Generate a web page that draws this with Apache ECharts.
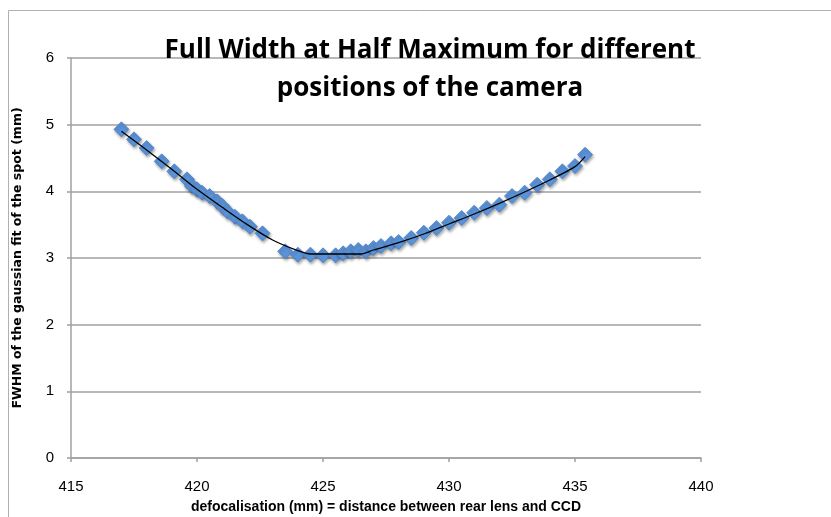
<!DOCTYPE html>
<html>
<head>
<meta charset="utf-8">
<script src="https://cdn.jsdelivr.net/npm/echarts@6/dist/echarts.min.js"></script>
<style>html,body{margin:0;padding:0;background:#fff;}#c{width:831px;height:517px;}</style>
</head>
<body>
<div id="c"></div>
<script>
var xValues = [417.0,417.5,418.0,418.6,419.1,419.6,419.8,420.0,420.2,420.5,420.8,421.0,421.2,421.5,421.8,422.1,422.6,423.5,424.0,424.5,425.0,425.5,425.8,426.1,426.4,426.7,427.0,427.3,427.7,428.0,428.5,429.0,429.5,430.0,430.5,431.0,431.5,432.0,432.5,433.0,433.5,434.0,434.5,435.0,435.4];
var yValues = [4.93,4.78,4.65,4.45,4.30,4.18,4.08,4.03,3.98,3.93,3.85,3.78,3.70,3.62,3.55,3.47,3.37,3.10,3.05,3.05,3.04,3.04,3.07,3.10,3.12,3.10,3.15,3.18,3.22,3.24,3.30,3.38,3.45,3.53,3.60,3.68,3.75,3.80,3.93,3.98,4.10,4.18,4.30,4.38,4.55];
var trendX = [417.0,418.0,419.0,420.0,421.0,422.0,423.0,424.0,424.5,426.5,427.0,428.0,429.0,430.0,431.0,432.0,433.0,434.0,435.0,435.4];
var trendY = [4.90,4.62,4.33,4.03,3.76,3.50,3.27,3.11,3.06,3.06,3.12,3.23,3.36,3.51,3.66,3.82,3.99,4.17,4.37,4.52];
var titleText = 'Full Width at Half Maximum for different\npositions of the camera';
var xName = 'defocalisation (mm) = distance between rear lens and CCD';
var yName = 'FWHM of the gaussian fit of the spot (mm)';

var pts = xValues.map(function(x,i){return [x,yValues[i]];});
var trend = trendX.map(function(x,i){return [x,trendY[i]];});

var chart = echarts.init(document.getElementById('c'), null, {renderer:'canvas'});
chart.setOption({
  animation:false,
  backgroundColor:'#fff',
  graphic:[{type:'polyline',z:100,shape:{points:[[8.5,517],[8.5,10.5],[831,10.5]]},style:{stroke:'#b0b0b0',lineWidth:1,fill:null}}],
  title:{text:titleText,left:425,top:27,textAlign:'center',
    textStyle:{fontFamily:'Open Sans, sans-serif',fontWeight:'bold',fontSize:26,lineHeight:38,color:'#000'}},
  grid:{left:71,right:130,top:58,bottom:59,containLabel:false,outerBoundsMode:'none'},
  xAxis:{type:'value',min:415,max:440,interval:5,
    name:xName,nameLocation:'middle',nameGap:42,
    nameTextStyle:{fontFamily:'Liberation Sans, sans-serif',fontWeight:'bold',fontSize:14,color:'#000'},
    axisLine:{lineStyle:{color:'#a0a0a0',width:1.5}},
    axisTick:{show:true,length:4,lineStyle:{color:'#a0a0a0',width:1.5}},
    axisLabel:{margin:21,fontFamily:'Liberation Sans, sans-serif',fontSize:15,color:'#000'},
    splitLine:{show:false}},
  yAxis:{type:'value',min:0,max:6,interval:1,
    name:yName,nameLocation:'middle',nameGap:47,
    nameTextStyle:{fontFamily:'DejaVu Sans, sans-serif',fontWeight:'bold',fontSize:12.5,color:'#000'},
    axisLine:{show:true,lineStyle:{color:'#a0a0a0',width:1.5}},
    axisTick:{show:true,length:4,lineStyle:{color:'#a0a0a0',width:1.5}},
    axisLabel:{margin:17,fontFamily:'Liberation Sans, sans-serif',fontSize:15,color:'#000'},
    splitLine:{show:true,lineStyle:{color:'#a0a0a0',width:1.5}}},
  series:[
    {type:'scatter',data:pts,symbol:'diamond',symbolSize:[15,15],
      itemStyle:{color:'#5b93d8',borderColor:'#4a80c8',borderWidth:0.8,opacity:1,
        shadowBlur:3,shadowColor:'rgba(0,0,0,0.35)',shadowOffsetX:1,shadowOffsetY:2},z:2},
    {type:'line',data:trend,smooth:0.3,symbol:'none',lineStyle:{color:'#000',width:1.3},z:3}
  ]
});
</script>
</body>
</html>
